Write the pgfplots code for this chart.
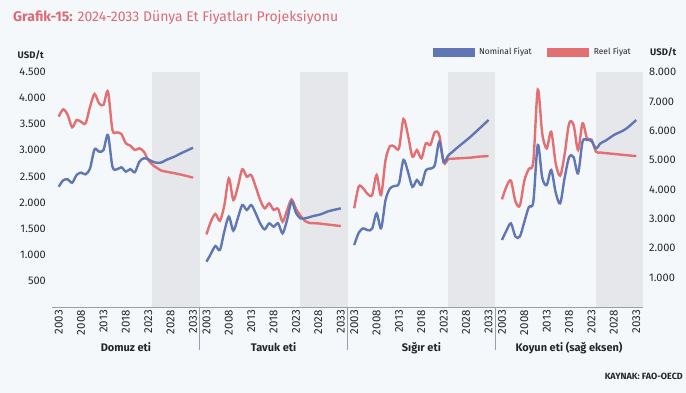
\documentclass[border=0pt]{standalone}
\usepackage{fontspec}
\setmainfont{Fira Sans}
\usepackage{pgfplots}
\pgfplotsset{compat=1.18}
\usepackage{pgfplotstable}

\definecolor{bg}{HTML}{F5F8FA}
\definecolor{nomblue}{HTML}{6176B5}
\definecolor{realred}{HTML}{E36F72}
\definecolor{shadegray}{HTML}{E6E7EA}
\definecolor{axgray}{HTML}{9A9EA6}
\definecolor{titlered}{HTML}{DB6B74}
\definecolor{txt}{HTML}{262626}

\pgfplotstableread{
year nom real
2003 2304 3645
2004 2426 3785
2005 2445 3680
2006 2381 3441
2007 2528 3580
2008 2573 3545
2009 2540 3517
2010 2656 3836
2011 3019 4079
2012 2975 3900
2013 3006 3870
2014 3294 4124
2015 2687 3390
2016 2636 3345
2017 2675 3313
2018 2592 3134
2019 2640 3090
2020 2580 3006
2021 2780 3038
2022 2847 2975
2023 2828 2815
2024 2783 2719
2025 2760 2660
2026 2770 2610
2027 2815 2592
2028 2850 2575
2029 2885 2560
2030 2930 2541
2031 2970 2520
2032 3010 2500
2033 3051 2477
}\domuz

\pgfplotstableread{
year nom real
2003 868 1390
2004 1020 1640
2005 1168 1780
2006 1092 1650
2007 1450 1950
2008 1730 2464
2009 1462 2049
2010 1700 2300
2011 1953 2637
2012 1858 2496
2013 1953 2528
2014 1794 2300
2015 1600 2050
2016 1487 1889
2017 1602 1985
2018 1538 1858
2019 1602 1880
2020 1411 1634
2021 1666 1850
2022 2017 2060
2023 1800 1880
2024 1698 1750
2025 1698 1650
2026 1720 1610
2027 1745 1605
2028 1762 1600
2029 1790 1590
2030 1826 1580
2031 1850 1570
2032 1870 1560
2033 1889 1551
}\tavuk

\pgfplotstableread{
year nom real
2003 1187 1890
2004 1420 2305
2005 1506 2272
2006 1470 2164
2007 1500 2145
2008 1794 2528
2009 1506 2145
2010 2049 2815
2011 2272 3083
2012 2317 3070
2013 2368 3038
2014 2815 3600
2015 2592 3294
2016 2300 2879
2017 2432 3006
2018 2336 2847
2019 2620 3134
2020 2650 3102
2021 2719 3350
2022 3166 3290
2023 2780 2760
2024 2900 2830
2025 2975 2840
2026 3050 2845
2027 3120 2850
2028 3190 2855
2029 3262 2860
2030 3340 2870
2031 3420 2880
2032 3500 2885
2033 3581 2892
}\sigir

\pgfplotstableread{
year nom real
2003 2281 3665
2004 2600 4100
2005 2848 4300
2006 2400 3600
2007 2400 3450
2008 2900 4300
2009 3400 4700
2010 3586 4950
2011 5514 7400
2012 4400 5900
2013 4153 5400
2014 4663 5969
2015 3900 4891
2016 3529 4470
2017 4400 5200
2018 5100 6250
2019 5100 6195
2020 4550 5344
2021 5628 6252
2022 5685 5741
2023 5650 5700
2024 5400 5288
2025 5571 5260
2026 5650 5240
2027 5750 5225
2028 5855 5210
2029 5930 5195
2030 6000 5180
2031 6100 5165
2032 6230 5150
2033 6365 5140
}\koyun

\pgfplotsset{
  panel/.style={
    at={(#1pt,86pt)}, anchor=south west,
    scale only axis, width=147.75pt, height=235pt,
    xmin=2001.5, xmax=2034.5, ymin=0,
    axis on top,
    axis x line*=bottom,
    x axis line style={draw=axgray, line width=0.8pt},
    major tick length=0pt,
    xtick={2003,2008,2013,2018,2023,2028,2033},
    xticklabels={2003,2008,2013,2018,2023,2028,2033},
    xticklabel style={rotate=90, anchor=east, inner sep=0pt, font=\fontsize{11.5}{13}\selectfont, text=txt},
    xticklabel shift=3pt,
    yticklabel style={inner sep=0pt, font=\fontsize{11}{13}\selectfont, text=txt},
    yticklabel shift=6pt,
    clip=false,
  },
  nom/.style={nomblue, line width=2.4pt, smooth, tension=0.5, no marks},
  real/.style={realred, line width=2.4pt, smooth, tension=0.5, no marks},
}

\begin{document}
\begin{tikzpicture}
\fill[bg] (0pt,0pt) rectangle (686pt,393pt);

% Panel 1
\begin{axis}[panel=52, ymax=4500,
  axis y line*=left, y axis line style={draw=none},
  ytick={500,1000,1500,2000,2500,3000,3500,4000,4500},
  yticklabels={500,1.000,1.500,2.000,2.500,3.000,3.500,4.000,4.500}]
\fill[shadegray] (axis cs:2023.9,0) rectangle (axis cs:2034.5,4500);
\addplot[real] table[x=year,y=real] {\domuz};
\addplot[nom] table[x=year,y=nom] {\domuz};
\end{axis}

% Panel 2
\begin{axis}[panel=199.75, ymax=4500, axis y line=none]
\fill[shadegray] (axis cs:2023.9,0) rectangle (axis cs:2034.5,4500);
\addplot[real] table[x=year,y=real] {\tavuk};
\addplot[nom] table[x=year,y=nom] {\tavuk};
\end{axis}

% Panel 3
\begin{axis}[panel=347.5, ymax=4500, axis y line=none]
\fill[shadegray] (axis cs:2023.9,0) rectangle (axis cs:2034.5,4500);
\addplot[real] table[x=year,y=real] {\sigir};
\addplot[nom] table[x=year,y=nom] {\sigir};
\end{axis}

% Panel 4 (right axis)
\begin{axis}[panel=495.25, ymax=8000,
  axis y line*=right, y axis line style={draw=none},
  ytick={1000,2000,3000,4000,5000,6000,7000,8000},
  yticklabels={1.000,2.000,3.000,4.000,5.000,6.000,7.000,8.000},
  legend style={at={(axis description cs:-0.455,1.085)}, anchor=west,
    draw=none, fill=none, legend columns=2, inner sep=0pt, outer sep=0pt,
    font=\fontsize{8.5}{10}\selectfont, text=txt,
    nodes={inner sep=0pt},
    /tikz/every even column/.append style={column sep=11pt}},
  legend image code/.code={\draw[#1, line width=9pt, line cap=butt] (0pt,0pt) -- (42pt,0pt); \path (43pt,0pt);},
  reverse legend]
\fill[shadegray] (axis cs:2023.9,0) rectangle (axis cs:2034.5,8000);
\addplot[real] table[x=year,y=real] {\koyun};
\addlegendentry{Reel Fiyat}
\addplot[nom] table[x=year,y=nom] {\koyun};
\addlegendentry{Nominal Fiyat}
\end{axis}

% separators
\foreach \xx in {199.75,347.5,495.25}{
  \draw[axgray, line width=0.8pt] (\xx pt,86pt) -- (\xx pt,43pt);
}

% panel names
\node[anchor=base, font=\fontsize{11}{13}\selectfont\bfseries, text=txt] at (125.9pt,41pt) {Domuz eti};
\node[anchor=base, font=\fontsize{11}{13}\selectfont\bfseries, text=txt] at (273.6pt,41pt) {Tavuk eti};
\node[anchor=base, font=\fontsize{11}{13}\selectfont\bfseries, text=txt] at (421.4pt,41pt) {Sığır eti};
\node[anchor=base, font=\fontsize{11}{13}\selectfont\bfseries, text=txt] at (569.1pt,41pt) {Koyun eti (sağ eksen)};

% axis units
\node[anchor=east, inner sep=0pt, font=\fontsize{9.5}{11}\selectfont\bfseries, text=txt] at (44pt,338pt) {USD/t};
\node[anchor=west, inner sep=0pt, font=\fontsize{9.5}{11}\selectfont\bfseries, text=txt] at (650pt,341pt) {USD/t};

% title
\node[anchor=base west, inner sep=0pt, font=\fontsize{14}{16}\selectfont, text=titlered] at (13pt,371pt) {\textbf{Grafik-15:} 2024-2033 Dünya Et Fiyatları Projeksiyonu};

% source
\node[anchor=base east, inner sep=0pt, font=\fontsize{9}{10}\selectfont\bfseries, text=txt] at (683pt,13pt) {KAYNAK: FAO-OECD};
\end{tikzpicture}
\end{document}
